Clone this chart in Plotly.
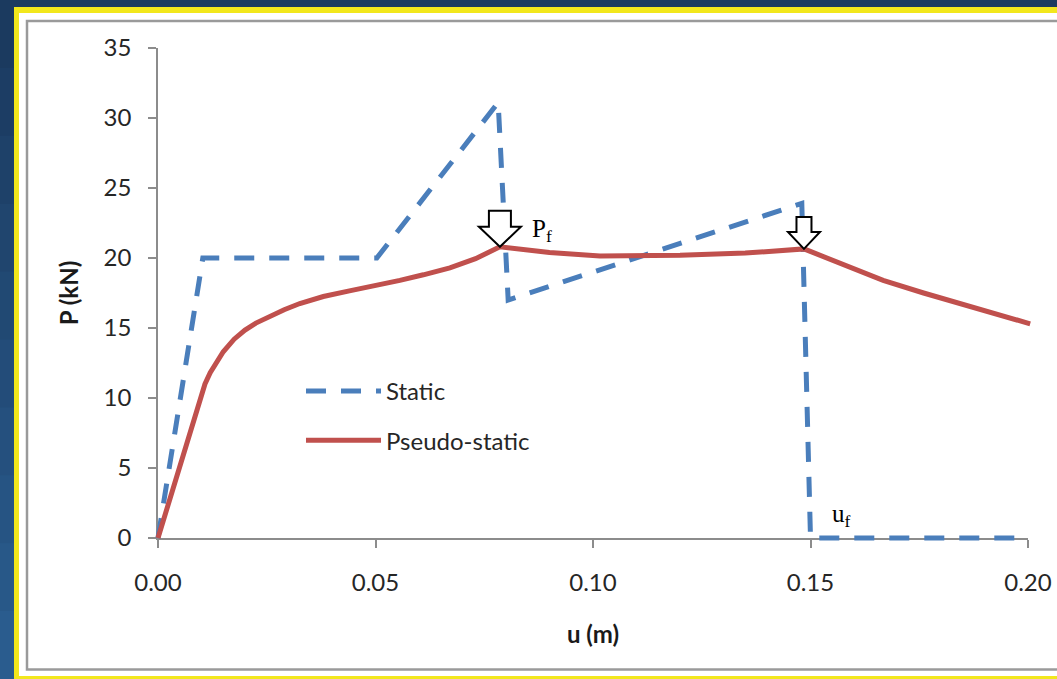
import plotly.graph_objects as go

# ---------------- data ----------------
static_u = [0.0, 0.0103, 0.0503, 0.0782, 0.0805, 0.148, 0.150, 0.200]
static_p = [0.0, 20.0, 20.0, 31.1, 17.0, 23.9, 0.0, 0.0]

pseudo_u = [0.0, 0.0095, 0.0108, 0.012, 0.0135, 0.015, 0.0175, 0.020, 0.0225, 0.025,
            0.029, 0.0326, 0.038, 0.044, 0.05, 0.0556, 0.061, 0.0671, 0.073, 0.0786,
            0.090, 0.1016, 0.12, 0.135, 0.1485, 0.1575, 0.1667, 0.176, 0.186, 0.193,
            0.2005]
pseudo_p = [0.0, 9.9, 11.0, 11.8, 12.6, 13.3, 14.2, 14.85, 15.35, 15.75,
            16.3, 16.75, 17.25, 17.65, 18.0, 18.4, 18.8, 19.3, 19.95, 20.8,
            20.4, 20.15, 20.2, 20.35, 20.65, 19.5, 18.4, 17.5, 16.6, 16.0,
            15.3]

x_ticks = [0.0, 0.05, 0.10, 0.15, 0.20]
y_ticks = [0, 5, 10, 15, 20, 25, 30, 35]
x_range = [0.0, 0.20]
y_range = [0.0, 35.0]

series_names = ["Static", "Pseudo-static"]

# ---------------- geometry ----------------
W, H = 1057, 679
PAD = 10                      # extra clip room around the plot area
L, R, T, B = 158, 29, 48, 141 # inner plot area margins
ml, mr, mt, mb = L - PAD, R - PAD, T - PAD, B - PAD
pw = W - ml - mr
ph = H - mt - mb
inner_w = W - L - R
inner_h = H - T - B

def fx(X):
    return (X - ml) / pw

def fy(Y):
    return (H - mb - Y) / ph

# second (hidden) axes with a slightly extended range so thick lines are not cut at the edges
ux = (x_range[1] - x_range[0]) / inner_w
uy = (y_range[1] - y_range[0]) / inner_h
x2_range = [x_range[0] - PAD * ux, x_range[1] + PAD * ux]
y2_range = [y_range[0] - PAD * uy, y_range[1] + PAD * uy]

BLUE = "#4A7EBB"
RED = "#C0504D"
AXIS = "#8C8C8C"
FONT = "Lato"

fig = go.Figure()
fig.add_trace(go.Scatter(
    x=static_u, y=static_p, name=series_names[0], mode="lines",
    line=dict(color=BLUE, width=5, dash="20px,15px"),
    xaxis="x2", yaxis="y2", legendgroup="a", hoverinfo="x+y"))
fig.add_trace(go.Scatter(
    x=pseudo_u, y=pseudo_p, name=series_names[1], mode="lines",
    line=dict(color=RED, width=5),
    xaxis="x2", yaxis="y2", legendgroup="b", hoverinfo="x+y"))

# ---------------- frame ----------------
shapes = []
top_rgb = (27, 58, 95)
bot_rgb = (42, 92, 142)
n = 10
for i in range(n):
    t = i / (n - 1)
    c = tuple(int(top_rgb[k] + (bot_rgb[k] - top_rgb[k]) * t) for k in range(3))
    shapes.append(dict(type="rect", xref="paper", yref="paper", layer="below",
                       x0=fx(0), x1=fx(15), y0=fy(H * i / n), y1=fy(H * (i + 1) / n + 1),
                       fillcolor="rgb(%d,%d,%d)" % c, line=dict(width=0)))
shapes.append(dict(type="rect", xref="paper", yref="paper", layer="below",
                   x0=fx(14), x1=fx(W + 20), y0=fy(7), y1=fy(H + 5),
                   fillcolor="#F2E71C", line=dict(width=0)))
shapes.append(dict(type="rect", xref="paper", yref="paper", layer="below",
                   x0=fx(19), x1=fx(W + 20), y0=fy(13), y1=fy(676),
                   fillcolor="#FFFFFF", line=dict(width=0)))
shapes.append(dict(type="rect", xref="paper", yref="paper", layer="below",
                   x0=fx(27), x1=fx(W + 20), y0=fy(21), y1=fy(669.5),
                   fillcolor="rgba(0,0,0,0)", line=dict(color="#9A9A9A", width=2.5)))

# ---------------- failure arrows ----------------
i_pf = pseudo_p.index(max(pseudo_p))
u_pf, p_pf = pseudo_u[i_pf], pseudo_p[i_pf]
i_uf = static_p.index(0.0, 1)
u_uf = static_u[i_uf]
i_pu = pseudo_u.index(0.1485)
u_pu, p_pu = pseudo_u[i_pu], pseudo_p[i_pu]

def arrow(u, p, hw, sw, hh, th):
    path = "M0,0 L%g,%g L%g,%g L%g,%g L%g,%g L%g,%g L%g,%g Z" % (
        -hw, hh, -sw, hh, -sw, th, sw, th, sw, hh, hw, hh)
    return dict(type="path", xref="x", yref="y", xsizemode="pixel", ysizemode="pixel",
                xanchor=u, yanchor=p, path=path, fillcolor="white",
                line=dict(color="black", width=2), layer="above")

shapes.append(arrow(u_pf, p_pf, 21, 11, 20, 36))
shapes.append(arrow(u_pu, p_pu, 16, 7.5, 17, 32))

annotations = [
    dict(x=u_pf, y=p_pf, xref="x", yref="y", text="P<sub>f</sub>", showarrow=False,
         xanchor="left", yanchor="middle", xshift=30, yshift=16,
         font=dict(family="Liberation Serif", size=25, color="black")),
    dict(x=u_uf, y=0, xref="x", yref="y", text="u<sub>f</sub>", showarrow=False,
         xanchor="left", yanchor="middle", xshift=19, yshift=23,
         font=dict(family="Liberation Serif", size=25, color="black")),
]

axis_common = dict(showline=True, linecolor=AXIS, linewidth=1.5, ticks="outside",
                   ticklen=8, tickcolor=AXIS, tickwidth=1.5, showgrid=False,
                   zeroline=False, automargin=False,
                   tickfont=dict(family=FONT, size=24, color="#262626"))

fig.update_layout(
    template="none",
    width=W, height=H, autosize=False,
    margin=dict(l=ml, r=mr, t=mt, b=mb, pad=0),
    paper_bgcolor="#1B3A5F", plot_bgcolor="rgba(0,0,0,0)",
    font=dict(family=FONT, color="#262626"),
    xaxis=dict(domain=[PAD / pw, 1 - PAD / pw], range=x_range, tickvals=x_ticks,
               tickformat=".2f", anchor="y", ticklabelstandoff=14,
               title=dict(text="<b>u (m)</b>", font=dict(family=FONT, size=24, color="#1A1A1A"),
                          standoff=32),
               **axis_common),
    yaxis=dict(domain=[PAD / ph, 1 - PAD / ph], range=y_range, tickvals=y_ticks,
               anchor="x", ticklabelstandoff=12,
               title=dict(text="<b>P (kN)</b>", font=dict(family=FONT, size=24, color="#1A1A1A"),
                          standoff=18),
               **axis_common),
    xaxis2=dict(domain=[0, 1], range=x2_range, anchor="y2", visible=False, automargin=False),
    yaxis2=dict(domain=[0, 1], range=y2_range, anchor="x2", visible=False, automargin=False),
    showlegend=True,
    legend=dict(x=fx(301), y=fy(369), xanchor="left", yanchor="top",
                bgcolor="rgba(0,0,0,0)", borderwidth=0, itemwidth=75,
                tracegroupgap=15, font=dict(family=FONT, size=24, color="#262626")),
    shapes=shapes,
    annotations=annotations,
)

fig.write_html("out.html")
